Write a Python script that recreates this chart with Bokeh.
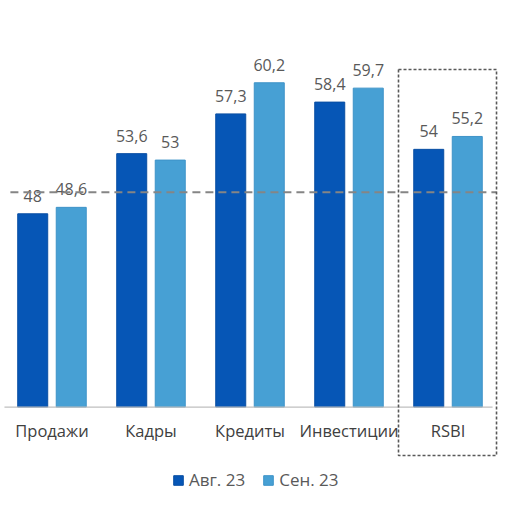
from bokeh.plotting import figure
from bokeh.models import ColumnDataSource, Range1d, FixedTicker, Legend, LegendItem
from bokeh.core.properties import value
from bokeh.embed import file_html
from bokeh.resources import INLINE

categories = ["Продажи", "Кадры", "Кредиты", "Инвестиции", "RSBI"]
aug = [48, 53.6, 57.3, 58.4, 54]
sep = [48.6, 53, 60.2, 59.7, 55.2]
series_names = ["Авг. 23", "Сен. 23"]
reference_level = 50
base_value = 30

aug_labels = [str(v).replace(".", ",") for v in aug]
sep_labels = [str(v).replace(".", ",") for v in sep]

DARK = "#0656B6"
LIGHT = "#47A0D4"
GREY_TXT = "#595959"
FONT = "Open Sans"

p = figure(width=498, height=498, output_backend="svg", toolbar_location=None,
           x_range=Range1d(-0.520, 4.510), y_range=Range1d(21.49, 67.86),
           min_border=0, min_border_left=0, min_border_right=0,
           min_border_top=0, min_border_bottom=0)
p.outline_line_color = None
p.grid.visible = False
p.yaxis.visible = False

idx = list(range(len(categories)))
off = 0.1945
w = 0.303
src_a = ColumnDataSource(dict(x=[i - off for i in idx], top=aug, lab=aug_labels))
src_s = ColumnDataSource(dict(x=[i + off for i in idx], top=sep, lab=sep_labels))

ra = p.vbar(x="x", top="top", bottom=base_value, width=w, source=src_a,
            fill_color=DARK, line_color="#0A4FA3", line_width=1)
rs = p.vbar(x="x", top="top", bottom=base_value, width=w, source=src_s,
            fill_color=LIGHT, line_color="#3E93C8", line_width=1)

for src in (src_a, src_s):
    p.text(x="x", y="top", text="lab", source=src, text_align="center",
           text_baseline="bottom", y_offset=-12, text_color=GREY_TXT,
           text_font=value(FONT), text_font_size="16px")

# baseline
p.segment(x0=[-0.48], y0=[base_value], x1=[4.45], y1=[base_value],
          line_color="#BFBFBF", line_width=1.2)

# reference dashed line
p.segment(x0=[-0.42], y0=[reference_level], x1=[4.49], y1=[reference_level],
          line_color="#858585", line_width=2, line_dash="8 5")

# dashed highlight box around RSBI
bx0, bx1, by0, by1 = 3.5, 4.49, 25.5, 61.44
p.quad(left=[bx0], right=[bx1], bottom=[by0], top=[by1], fill_color=None,
       line_color="#595959", line_width=1.6, line_dash="3 2")

ax = p.xaxis[0]
ax.fixed_location = base_value
ax.ticker = FixedTicker(ticks=idx)
ax.major_label_overrides = {i: c for i, c in zip(idx, categories)}
ax.axis_line_color = None
ax.major_tick_line_color = None
ax.minor_tick_line_color = None
ax.major_tick_out = 0
ax.major_label_standoff = 12
ax.major_label_text_font = FONT
ax.major_label_text_font_size = "16.5px"
ax.major_label_text_color = "#404040"

legend = Legend(items=[LegendItem(label=series_names[0], renderers=[ra]),
                       LegendItem(label=series_names[1], renderers=[rs])],
                orientation="horizontal", location=(172, 7),
                glyph_width=12, glyph_height=12, label_standoff=5, spacing=17,
                padding=0, margin=0, border_line_color=None,
                background_fill_alpha=0, label_text_font=FONT,
                label_text_font_size="17px", label_text_color=GREY_TXT)
p.add_layout(legend, "center")

open("out.html", "w").write(file_html(p, INLINE))
